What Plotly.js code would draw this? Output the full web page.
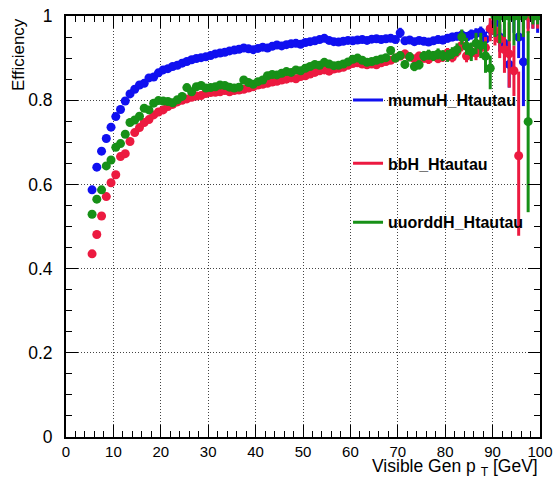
<!DOCTYPE html>
<html>
<head>
<meta charset="utf-8">
<script src="https://cdn.plot.ly/plotly-3.0.1.min.js"></script>
<style>
  html, body { margin: 0; padding: 0; background: #ffffff; }
  #plot { width: 557px; height: 477px; }
</style>
</head>
<body>
<div id="plot"></div>
<script>
// Bin centres of the visible generator-level pT (1 GeV bins)
const ptBins = [
  5.5, 6.5, 7.5, 8.5, 9.5, 10.5, 11.5, 12.5, 13.5, 14.5,
  15.5, 16.5, 17.5, 18.5, 19.5, 20.5, 21.5, 22.5, 23.5, 24.5,
  25.5, 26.5, 27.5, 28.5, 29.5, 30.5, 31.5, 32.5, 33.5, 34.5,
  35.5, 36.5, 37.5, 38.5, 39.5, 40.5, 41.5, 42.5, 43.5, 44.5,
  45.5, 46.5, 47.5, 48.5, 49.5, 50.5, 51.5, 52.5, 53.5, 54.5,
  55.5, 56.5, 57.5, 58.5, 59.5, 60.5, 61.5, 62.5, 63.5, 64.5,
  65.5, 66.5, 67.5, 68.5, 69.5, 70.5, 71.5, 72.5, 73.5, 74.5,
  75.5, 76.5, 77.5, 78.5, 79.5, 80.5, 81.5, 82.5, 83.5, 84.5,
  85.5, 86.5, 87.5, 88.5, 89.5, 90.5, 91.5, 92.5, 93.5, 94.5,
  95.5, 96.5, 97.5, 98.5, 99.5
];

// mumuH_Htautau efficiency
const effMumuH = [
  0.587, 0.641, 0.679, 0.709, 0.736, 0.761, 0.778, 0.798, 0.815, 0.826,
  0.836, 0.840, 0.853, 0.855, 0.865, 0.872, 0.875, 0.880, 0.883, 0.888,
  0.892, 0.896, 0.899, 0.901, 0.903, 0.906, 0.910, 0.912, 0.914, 0.917,
  0.919, 0.921, 0.924, 0.922, 0.920, 0.923, 0.926, 0.924, 0.928, 0.931,
  0.929, 0.932, 0.934, 0.935, 0.933, 0.937, 0.939, 0.941, 0.944, 0.947,
  0.942, 0.939, 0.938, 0.940, 0.942, 0.941, 0.943, 0.944, 0.942, 0.945,
  0.946, 0.944, 0.946, 0.947, 0.944, 0.960, 0.941, 0.943, 0.939, 0.942,
  0.940, 0.938, 0.941, 0.944, 0.943, 0.947, 0.950, 0.952, 0.955, 0.950,
  0.956, 0.958, 0.962, 0.945, 0.968, 0.983, 0.950, 0.935, 0.885, 1.000,
  0.950, 0.891, 1.000, 1.000, 1.000
];
const errHiMumuH = [
  0.006, 0.006, 0.006, 0.005, 0.005, 0.005, 0.005, 0.005, 0.005, 0.005,
  0.005, 0.005, 0.005, 0.005, 0.005, 0.005, 0.005, 0.005, 0.005, 0.005,
  0.005, 0.005, 0.005, 0.005, 0.005, 0.005, 0.005, 0.005, 0.005, 0.005,
  0.005, 0.005, 0.005, 0.005, 0.005, 0.005, 0.005, 0.005, 0.005, 0.005,
  0.005, 0.005, 0.005, 0.005, 0.005, 0.005, 0.005, 0.005, 0.005, 0.005,
  0.006, 0.006, 0.006, 0.006, 0.006, 0.006, 0.006, 0.006, 0.006, 0.006,
  0.007, 0.007, 0.007, 0.007, 0.007, 0.012, 0.008, 0.008, 0.008, 0.008,
  0.009, 0.009, 0.009, 0.009, 0.010, 0.010, 0.010, 0.010, 0.011, 0.012,
  0.012, 0.013, 0.013, 0.018, 0.015, 0.012, 0.030, 0.035, 0.050, 0.000,
  0.040, 0.100, 0.000, 0.000, 0.000
];
const errLoMumuH = [
  0.006, 0.006, 0.006, 0.005, 0.005, 0.005, 0.005, 0.005, 0.005, 0.005,
  0.005, 0.005, 0.005, 0.005, 0.005, 0.005, 0.005, 0.005, 0.005, 0.005,
  0.005, 0.005, 0.005, 0.005, 0.005, 0.005, 0.005, 0.005, 0.005, 0.005,
  0.005, 0.005, 0.005, 0.005, 0.005, 0.005, 0.005, 0.005, 0.005, 0.005,
  0.005, 0.005, 0.005, 0.005, 0.005, 0.005, 0.005, 0.005, 0.005, 0.005,
  0.006, 0.006, 0.006, 0.006, 0.006, 0.006, 0.006, 0.006, 0.006, 0.006,
  0.007, 0.007, 0.007, 0.007, 0.007, 0.012, 0.008, 0.008, 0.008, 0.008,
  0.009, 0.009, 0.009, 0.009, 0.010, 0.010, 0.010, 0.010, 0.011, 0.012,
  0.012, 0.013, 0.013, 0.020, 0.020, 0.025, 0.035, 0.040, 0.055, 0.040,
  0.050, 0.105, 0.030, 0.030, 0.040
];

// bbH_Htautau efficiency
const effBbH = [
  0.435, 0.481, 0.525, 0.571, 0.604, 0.623, 0.666, 0.673, 0.702, 0.723,
  0.735, 0.747, 0.754, 0.765, 0.772, 0.777, 0.785, 0.790, 0.796, 0.800,
  0.803, 0.807, 0.810, 0.811, 0.816, 0.818, 0.819, 0.820, 0.823, 0.820,
  0.823, 0.824, 0.826, 0.829, 0.832, 0.836, 0.838, 0.840, 0.843, 0.845,
  0.848, 0.850, 0.853, 0.851, 0.856, 0.858, 0.862, 0.866, 0.870, 0.872,
  0.869, 0.874, 0.876, 0.878, 0.883, 0.887, 0.889, 0.886, 0.884, 0.886,
  0.884, 0.889, 0.892, 0.895, 0.900, 0.905, 0.910, 0.903, 0.898, 0.905,
  0.900, 0.897, 0.905, 0.899, 0.903, 0.912, 0.902, 0.915, 0.930, 0.905,
  0.915, 0.912, 0.925, 0.925, 0.970, 0.965, 0.945, 0.920, 0.910, 0.870,
  0.668, 1.000, 1.000, 1.000, 1.000
];
const errHiBbH = [
  0.007, 0.007, 0.007, 0.006, 0.006, 0.006, 0.006, 0.006, 0.006, 0.006,
  0.006, 0.006, 0.006, 0.006, 0.006, 0.006, 0.006, 0.006, 0.006, 0.006,
  0.006, 0.006, 0.006, 0.006, 0.006, 0.006, 0.006, 0.006, 0.006, 0.006,
  0.006, 0.006, 0.006, 0.006, 0.006, 0.006, 0.006, 0.006, 0.006, 0.006,
  0.007, 0.007, 0.007, 0.007, 0.007, 0.007, 0.007, 0.007, 0.007, 0.007,
  0.008, 0.008, 0.008, 0.008, 0.008, 0.008, 0.008, 0.008, 0.008, 0.008,
  0.009, 0.009, 0.009, 0.009, 0.009, 0.010, 0.010, 0.010, 0.010, 0.010,
  0.011, 0.011, 0.011, 0.011, 0.012, 0.012, 0.012, 0.013, 0.014, 0.015,
  0.016, 0.017, 0.018, 0.025, 0.025, 0.030, 0.040, 0.050, 0.075, 0.060,
  0.200, 0.000, 0.000, 0.000, 0.000
];
const errLoBbH = [
  0.007, 0.007, 0.007, 0.006, 0.006, 0.006, 0.006, 0.006, 0.006, 0.006,
  0.006, 0.006, 0.006, 0.006, 0.006, 0.006, 0.006, 0.006, 0.006, 0.006,
  0.006, 0.006, 0.006, 0.006, 0.006, 0.006, 0.006, 0.006, 0.006, 0.006,
  0.006, 0.006, 0.006, 0.006, 0.006, 0.006, 0.006, 0.006, 0.006, 0.006,
  0.007, 0.007, 0.007, 0.007, 0.007, 0.007, 0.007, 0.007, 0.007, 0.007,
  0.008, 0.008, 0.008, 0.008, 0.008, 0.008, 0.008, 0.008, 0.008, 0.008,
  0.009, 0.009, 0.009, 0.009, 0.009, 0.010, 0.010, 0.010, 0.010, 0.010,
  0.011, 0.011, 0.011, 0.011, 0.012, 0.012, 0.012, 0.013, 0.014, 0.015,
  0.016, 0.017, 0.018, 0.025, 0.030, 0.035, 0.045, 0.055, 0.080, 0.060,
  0.190, 0.050, 0.040, 0.030, 0.030
];

// uuorddH_Htautau efficiency
const effUuorddH = [
  0.529, 0.565, 0.587, 0.644, 0.658, 0.688, 0.697, 0.719, 0.747, 0.753,
  0.762, 0.781, 0.777, 0.793, 0.799, 0.798, 0.797, 0.794, 0.801, 0.809,
  0.830, 0.820, 0.832, 0.835, 0.829, 0.830, 0.832, 0.836, 0.835, 0.831,
  0.829, 0.831, 0.848, 0.842, 0.838, 0.844, 0.848, 0.858, 0.861, 0.860,
  0.864, 0.868, 0.866, 0.872, 0.870, 0.876, 0.880, 0.885, 0.883, 0.890,
  0.886, 0.882, 0.883, 0.886, 0.891, 0.897, 0.900, 0.895, 0.890, 0.892,
  0.895, 0.898, 0.901, 0.918, 0.900, 0.906, 0.885, 0.903, 0.880, 0.884,
  0.905, 0.908, 0.905, 0.910, 0.906, 0.905, 0.912, 0.920, 0.950, 0.928,
  0.915, 0.935, 0.930, 0.905, 0.876, 1.000, 1.000, 1.000, 1.000, 1.000,
  1.000, 1.000, 0.749, 1.000, 1.000
];
const errHiUuorddH = [
  0.007, 0.007, 0.007, 0.006, 0.006, 0.006, 0.006, 0.006, 0.006, 0.006,
  0.006, 0.006, 0.006, 0.006, 0.006, 0.006, 0.006, 0.006, 0.006, 0.006,
  0.006, 0.006, 0.006, 0.006, 0.006, 0.006, 0.006, 0.006, 0.006, 0.006,
  0.006, 0.006, 0.006, 0.006, 0.006, 0.006, 0.006, 0.006, 0.006, 0.006,
  0.007, 0.007, 0.007, 0.007, 0.007, 0.007, 0.007, 0.007, 0.007, 0.007,
  0.008, 0.008, 0.008, 0.008, 0.008, 0.008, 0.008, 0.008, 0.008, 0.008,
  0.009, 0.009, 0.009, 0.010, 0.010, 0.010, 0.010, 0.011, 0.011, 0.011,
  0.012, 0.012, 0.012, 0.013, 0.013, 0.014, 0.014, 0.015, 0.018, 0.020,
  0.022, 0.025, 0.030, 0.035, 0.030, 0.000, 0.000, 0.000, 0.000, 0.000,
  0.000, 0.000, 0.215, 0.000, 0.000
];
const errLoUuorddH = [
  0.007, 0.007, 0.007, 0.006, 0.006, 0.006, 0.006, 0.006, 0.006, 0.006,
  0.006, 0.006, 0.006, 0.006, 0.006, 0.006, 0.006, 0.006, 0.006, 0.006,
  0.006, 0.006, 0.006, 0.006, 0.006, 0.006, 0.006, 0.006, 0.006, 0.006,
  0.006, 0.006, 0.006, 0.006, 0.006, 0.006, 0.006, 0.006, 0.006, 0.006,
  0.007, 0.007, 0.007, 0.007, 0.007, 0.007, 0.007, 0.007, 0.007, 0.007,
  0.008, 0.008, 0.008, 0.008, 0.008, 0.008, 0.008, 0.008, 0.008, 0.008,
  0.009, 0.009, 0.009, 0.010, 0.010, 0.010, 0.010, 0.011, 0.011, 0.011,
  0.012, 0.012, 0.012, 0.013, 0.013, 0.014, 0.014, 0.015, 0.018, 0.020,
  0.022, 0.025, 0.030, 0.040, 0.050, 0.050, 0.065, 0.050, 0.060, 0.070,
  0.060, 0.050, 0.215, 0.020, 0.020
];

const samples = [
  { name: 'mumuH_Htautau',   y: effMumuH,   hi: errHiMumuH,   lo: errLoMumuH,   color: '#1010f0', legend: 'legend'  },
  { name: 'bbH_Htautau',     y: effBbH,     hi: errHiBbH,     lo: errLoBbH,     color: '#ec1a40', legend: 'legend2' },
  { name: 'uuorddH_Htautau', y: effUuorddH, hi: errHiUuorddH, lo: errLoUuorddH, color: '#179017', legend: 'legend3' }
];

const traces = [];
samples.forEach(s => {
  traces.push({
    type: 'scatter',
    mode: 'markers',
    x: ptBins,
    y: s.y,
    showlegend: false,
    marker: { color: s.color, size: 9, symbol: 'circle', line: { width: 0 } },
    error_y: {
      type: 'data', symmetric: false,
      array: s.hi, arrayminus: s.lo,
      color: s.color, thickness: 3, width: 0
    },
    hoverinfo: 'x+y+name',
    name: s.name
  });
});
// line-style legend entries
samples.forEach(s => {
  traces.push({
    type: 'scatter', mode: 'lines',
    x: [null], y: [null],
    name: s.name,
    legend: s.legend,
    line: { color: s.color, width: 3 },
    hoverinfo: 'skip'
  });
});

const fontFam = '"Liberation Sans", Arial, Helvetica, sans-serif';
const legendBase = {
  xanchor: 'left', yanchor: 'middle',
  bgcolor: 'rgba(0,0,0,0)', borderwidth: 0,
  font: { family: fontFam, size: 16, color: '#000', weight: 'bold' },
  itemwidth: 30
};

const layout = {
  width: 557, height: 477,
  margin: { l: 66, r: 17, t: 16, b: 40 },
  paper_bgcolor: '#ffffff', plot_bgcolor: '#ffffff',
  font: { family: fontFam, size: 15, color: '#000' },
  showlegend: true,
  legend:  Object.assign({}, legendBase, { x: 0.595, y: 0.80 }),
  legend2: Object.assign({}, legendBase, { x: 0.595, y: 0.65 }),
  legend3: Object.assign({}, legendBase, { x: 0.595, y: 0.51 }),
  xaxis: {
    range: [0, 100], dtick: 10, tick0: 0,
    ticks: 'inside', ticklen: 12, tickwidth: 1, tickcolor: '#000',
    minor: { dtick: 2, ticks: 'inside', ticklen: 6, tickcolor: '#000', showgrid: false },
    showline: true, linecolor: '#000', linewidth: 2, mirror: 'allticks',
    showgrid: true, gridcolor: '#444', gridwidth: 1, griddash: '1px,2px',
    zeroline: false,
    ticklabelstandoff: 0,
    tickfont: { family: fontFam, size: 15, color: '#000' }
  },
  yaxis: {
    range: [0, 1], dtick: 0.2, tick0: 0,
    ticks: 'inside', ticklen: 12, tickwidth: 1, tickcolor: '#000',
    minor: { dtick: 0.05, ticks: 'inside', ticklen: 6, tickcolor: '#000', showgrid: false },
    showline: true, linecolor: '#000', linewidth: 2, mirror: 'allticks',
    showgrid: true, gridcolor: '#444', gridwidth: 1, griddash: '1px,2px',
    zeroline: false,
    ticklabelstandoff: 8,
    tickfont: { family: fontFam, size: 17.5, color: '#000' }
  },
  annotations: [
    {
      text: 'Efficiency', textangle: -90,
      xref: 'paper', yref: 'paper', x: -0.1, y: 1.0,
      xanchor: 'center', yanchor: 'top', showarrow: false,
      font: { family: fontFam, size: 17, color: '#000' }
    },
    {
      text: 'Visible Gen p <sub>T</sub> [GeV]',
      xref: 'paper', yref: 'paper', x: 1.0, y: -0.105,
      xanchor: 'right', yanchor: 'bottom', showarrow: false,
      font: { family: fontFam, size: 17.5, color: '#000' }
    }
  ]
};

Plotly.newPlot('plot', traces, layout, { staticPlot: true, displayModeBar: false });
</script>
</body>
</html>
